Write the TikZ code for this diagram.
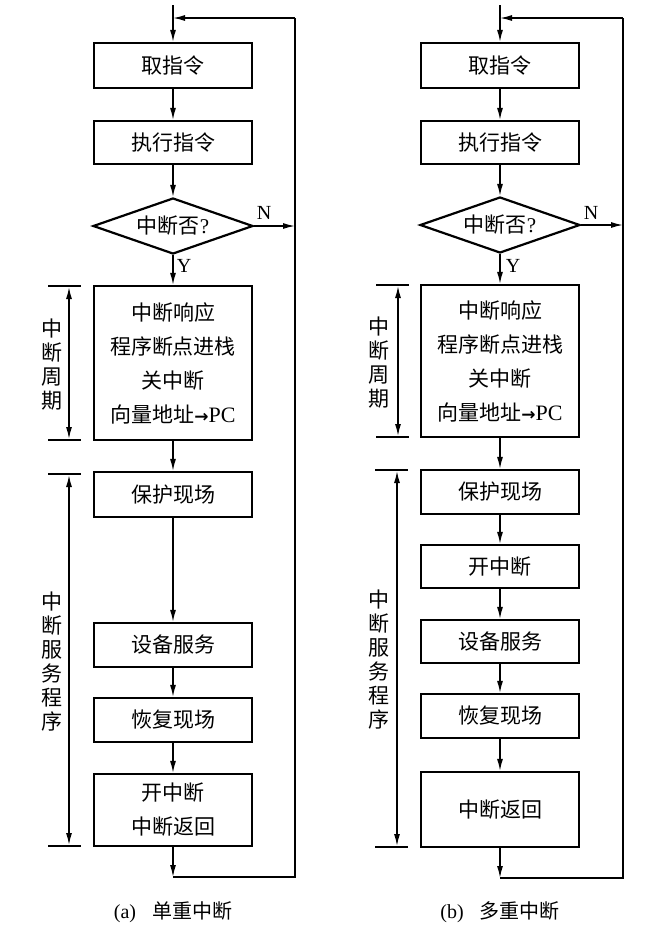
\documentclass[tikz,border=0pt]{standalone}
\usepackage{fontspec}
\setmainfont{Noto Sans CJK SC}
\newfontfamily\latf{Liberation Serif}
\newfontfamily\arrf{DejaVu Sans}
\newcommand{\parr}{{\arrf\bfseries\fontsize{17}{20}\selectfont →}}
\usetikzlibrary{shapes.geometric,arrows.meta}
\begin{document}
\begin{tikzpicture}[x=1pt,y=-1pt,
  box/.style={draw,line width=2.2pt,minimum width=158pt,inner sep=0pt,font=\fontsize{21}{34}\selectfont,align=center},
  dia/.style={draw,line width=2.2pt,diamond,aspect=2.86,minimum width=160pt,minimum height=56pt,inner sep=0pt,font=\fontsize{21}{24}\selectfont},
  con/.style={line width=1.4pt,-{Latex[length=12pt,width=6pt]}},
  ln/.style={line width=1.4pt},
  tickln/.style={line width=1.4pt},
  brk/.style={line width=1.4pt,{Latex[length=12pt,width=6pt]}-{Latex[length=12pt,width=6pt]}},
  vlab/.style={font=\fontsize{21}{24}\selectfont,align=center,inner sep=0pt},
  lab/.style={font=\latf\fontsize{20}{22}\selectfont,inner sep=0pt},
  capt/.style={font=\fontsize{20}{22}\selectfont,inner sep=0pt}]
\useasboundingbox (0,0) rectangle (646,930);
\fill[white] (0,0) rectangle (646,930);

% ---------------- left (a) ----------------
\coordinate (a0) at (173,5);
\node[box,minimum height=45pt] (af) at (173,65.5) {取指令};
\node[box,minimum height=43pt] (ae) at (173,142.5) {执行指令};
\node[dia] (ad) at (173,226) {中断否{\latf ?}};
\node[box,minimum height=154pt] (ar) at (173,363) {中断响应\\程序断点进栈\\关中断\\向量地址\parr{\latf\fontsize{22}{34}\selectfont PC}};
\node[box,minimum height=45pt] (ap) at (173,494.5) {保护现场};
\node[box,minimum height=44pt] (as) at (173,645) {设备服务};
\node[box,minimum height=44pt] (ah) at (173,720) {恢复现场};
\node[box,minimum height=72pt] (ak) at (173,810) {开中断\\中断返回};
\coordinate (aL) at (295,226);
\coordinate (aB) at (173,877);
\coordinate (aBR) at (295,877);
\coordinate (aTR) at (295,18);
\coordinate (aT) at (173,18);

\draw[con] (a0) -- (af);
\draw[con] (af) -- (ae);
\draw[con] (ae) -- (ad);
\draw[con] (ad) -- (ar);
\draw[con] (ar) -- (ap);
\draw[con] (ap) -- (as);
\draw[con] (as) -- (ah);
\draw[con] (ah) -- (ak);
\draw[con] (ad.east) -- (aL);
\draw[con] (ak.south) -- (aB);
\draw[ln] (aB) -- (aBR) -- (aTR);
\draw[con] (aTR) -- (aT);
\node[lab] (aN) at (264,213) {N};
\node[lab] (aY) at (184,266) {Y};

% brackets
\coordinate (ab1a) at (48,286); \coordinate (ab1b) at (81,286);
\coordinate (ab1c) at (48,440); \coordinate (ab1d) at (81,440);
\draw[tickln] (ab1a) -- (ab1b);
\draw[tickln] (ab1c) -- (ab1d);
\draw[brk] (69,287) -- (69,439);
\node[vlab] (aq1) at (52,365) {中\\断\\周\\期};
\coordinate (ab2a) at (48,474); \coordinate (ab2b) at (81,474);
\coordinate (ab2c) at (48,846); \coordinate (ab2d) at (81,846);
\draw[tickln] (ab2a) -- (ab2b);
\draw[tickln] (ab2c) -- (ab2d);
\draw[brk] (69,475) -- (69,845);
\node[vlab] (aq2) at (52,662) {中\\断\\服\\务\\程\\序};
\node[capt] (acap) at (173,912) {{\latf (a)}\hspace{16pt}单重中断};

% ---------------- right (b) ----------------
\coordinate (b0) at (500,5);
\node[box,minimum height=45pt] (bf) at (500,65.5) {取指令};
\node[box,minimum height=43pt] (be) at (500,142.5) {执行指令};
\node[dia] (bd) at (500,225) {中断否{\latf ?}};
\node[box,minimum height=152pt] (br) at (500,361) {中断响应\\程序断点进栈\\关中断\\向量地址\parr{\latf\fontsize{22}{34}\selectfont PC}};
\node[box,minimum height=44pt] (bp) at (500,492) {保护现场};
\node[box,minimum height=43pt] (bo) at (500,566.5) {开中断};
\node[box,minimum height=43pt] (bs) at (500,641.5) {设备服务};
\node[box,minimum height=44pt] (bh) at (500,716) {恢复现场};
\node[box,minimum height=75pt] (bk) at (500,809.5) {中断返回};
\coordinate (bL) at (623,225);
\coordinate (bB) at (500,878);
\coordinate (bBR) at (623,878);
\coordinate (bTR) at (623,18);
\coordinate (bT) at (500,18);

\draw[con] (b0) -- (bf);
\draw[con] (bf) -- (be);
\draw[con] (be) -- (bd);
\draw[con] (bd) -- (br);
\draw[con] (br) -- (bp);
\draw[con] (bp) -- (bo);
\draw[con] (bo) -- (bs);
\draw[con] (bs) -- (bh);
\draw[con] (bh) -- (bk);
\draw[con] (bd.east) -- (bL);
\draw[con] (bk.south) -- (bB);
\draw[ln] (bB) -- (bBR) -- (bTR);
\draw[con] (bTR) -- (bT);
\node[lab] (bN) at (591,213) {N};
\node[lab] (bY) at (513,266) {Y};

\coordinate (bb1a) at (376,285); \coordinate (bb1b) at (409,285);
\coordinate (bb1c) at (376,437); \coordinate (bb1d) at (409,437);
\draw[tickln] (bb1a) -- (bb1b);
\draw[tickln] (bb1c) -- (bb1d);
\draw[brk] (398,286) -- (398,436);
\node[vlab] (bq1) at (379,363) {中\\断\\周\\期};
\coordinate (bb2a) at (375,470); \coordinate (bb2b) at (408,470);
\coordinate (bb2c) at (375,847); \coordinate (bb2d) at (408,847);
\draw[tickln] (bb2a) -- (bb2b);
\draw[tickln] (bb2c) -- (bb2d);
\draw[brk] (397,471) -- (397,846);
\node[vlab] (bq2) at (379,660) {中\\断\\服\\务\\程\\序};
\node[capt] (bcap) at (500,912) {{\latf (b)}\hspace{16pt}多重中断};
\end{tikzpicture}
\end{document}
